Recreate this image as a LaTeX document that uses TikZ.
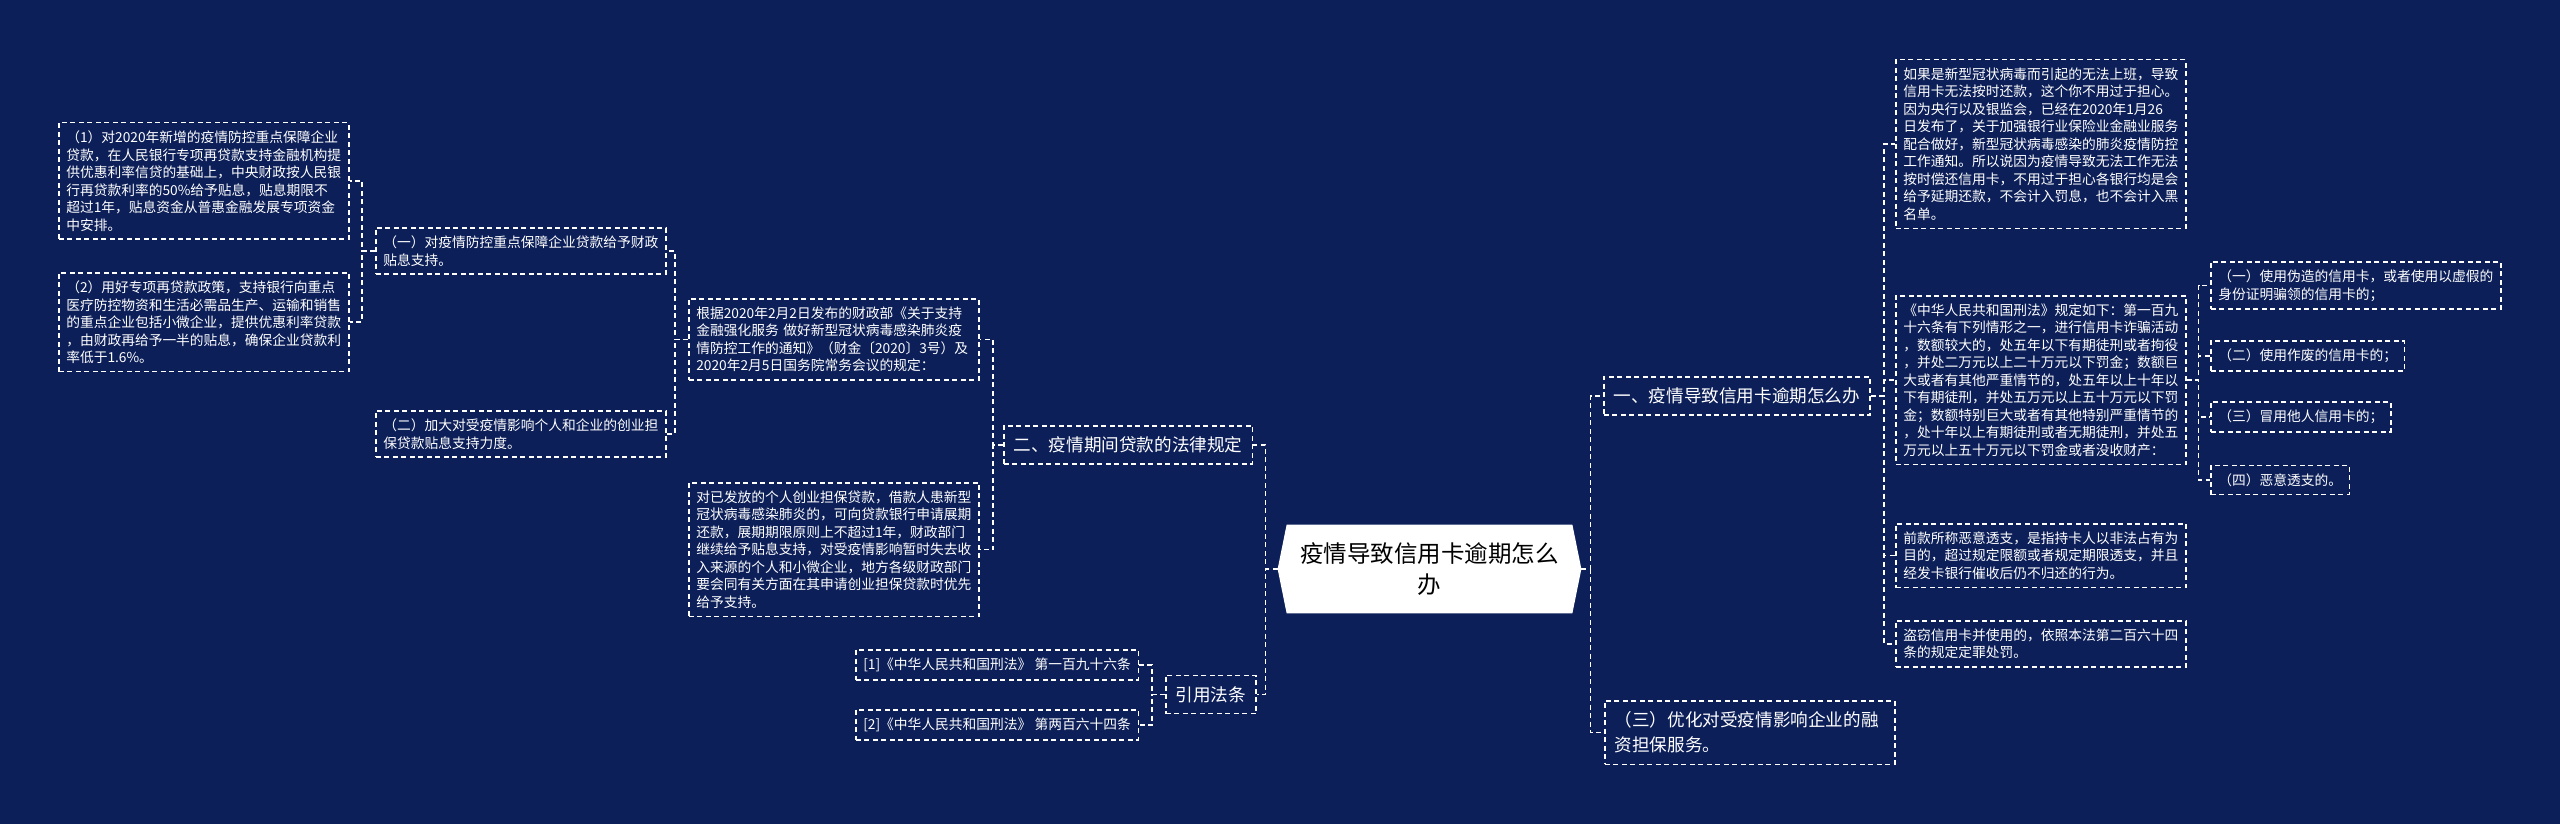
\documentclass[tikz,border=0pt]{standalone}
\usepackage{fontspec}
\setmainfont{Noto Sans CJK SC}
\usetikzlibrary{backgrounds}
\definecolor{mapnavy}{RGB}{12,31,89}
\tikzset{every picture/.style={line width=0.75pt}}
\tikzset{
  leaf/.style={draw=white, line width=1.5pt, dash pattern=on 5pt off 3.5pt, text=white, font=\fontsize{13.75}{17.5}\selectfont, align=left, inner xsep=7.5pt, inner ysep=8pt},
  leafwide/.style={leaf, text width=275pt},
  branch/.style={draw=white, line width=1.5pt, dash pattern=on 5pt off 3.5pt, text=white, font=\fontsize{17.6}{25}\selectfont, align=left, inner xsep=10pt, inner ysep=11pt},
  rootbox/.style={text=black, font=\fontsize{23.5}{31}\selectfont, align=center, minimum width=285pt, minimum height=88pt, inner sep=0pt},
  link/.style={draw=white, line width=1.5pt, dash pattern=on 5pt off 3.5pt},
}

\begin{document}
\begin{tikzpicture}[x=1pt,y=1pt,yscale=-1,xscale=1]
\useasboundingbox (0,0) rectangle (2560,824);
\begin{scope}[on background layer]
\fill[mapnavy] (0,0) rectangle (2560,824);
\end{scope}

% Root Node
\node [rootbox] (root) at (1429.5,569) {疫情导致信用卡逾期怎么\\办};
\coordinate (root-l) at ([xshift=-9pt]root.west);
\coordinate (root-r) at ([xshift=9pt]root.east);
\begin{scope}[on background layer]
\fill[white] (root.north west) -- (root.north east) -- (root-r) -- (root.south east) -- (root.south west) -- (root-l) -- cycle;
\end{scope}

% Text Node
\draw (1003,445) node [branch, anchor=west] (b2) {二、疫情期间贷款的法律规定};
% Text Node
\draw (1165,694.5) node [branch, anchor=west] (cite) {引用法条};
% Text Node
\draw (1603,396) node [branch, anchor=west] (b1) {一、疫情导致信用卡逾期怎么办};
% Text Node
\draw (1604,700) node [branch, anchor=north west, text width=270pt] (b3) {（三）优化对受疫情影响企业的融\\资担保服务。};

% Text Node
\draw (688,298) node [leafwide, anchor=north west] (law) {根据2020年2月2日发布的财政部《关于支持\\金融强化服务~做好新型冠状病毒感染肺炎疫\\情防控工作的通知》（财金〔2020〕3号）及\\2020年2月5日国务院常务会议的规定：};
% Text Node
\draw (688,482) node [leafwide, anchor=north west] (relief) {对已发放的个人创业担保贷款，借款人患新型\\冠状病毒感染肺炎的，可向贷款银行申请展期\\还款，展期期限原则上不超过1年，财政部门\\继续给予贴息支持，对受疫情影响暂时失去收\\入来源的个人和小微企业，地方各级财政部门\\要会同有关方面在其申请创业担保贷款时优先\\给予支持。};
% Text Node
\draw (375,227) node [leafwide, anchor=north west] (n1) {（一）对疫情防控重点保障企业贷款给予财政\\贴息支持。};
% Text Node
\draw (375,410) node [leafwide, anchor=north west] (n2) {（二）加大对受疫情影响个人和企业的创业担\\保贷款贴息支持力度。};
% Text Node
\draw (58,122) node [leafwide, anchor=north west] (p1) {（1）对2020年新增的疫情防控重点保障企业\\贷款，在人民银行专项再贷款支持金融机构提\\供优惠利率信贷的基础上，中央财政按人民银\\行再贷款利率的50\%给予贴息，贴息期限不\\超过1年，贴息资金从普惠金融发展专项资金\\中安排。};
% Text Node
\draw (58,272) node [leafwide, anchor=north west] (p2) {（2）用好专项再贷款政策，支持银行向重点\\医疗防控物资和生活必需品生产、运输和销售\\的重点企业包括小微企业，提供优惠利率贷款\\，由财政再给予一半的贴息，确保企业贷款利\\率低于1.6\%。};
% Text Node
\draw (855,665) node [leaf, anchor=west] (ref1) {[1]《中华人民共和国刑法》 第一百九十六条};
% Text Node
\draw (855,725) node [leaf, anchor=west] (ref2) {[2]《中华人民共和国刑法》 第两百六十四条};

% Text Node
\draw (1895,59) node [leafwide, anchor=north west] (ra) {如果是新型冠状病毒而引起的无法上班，导致\\信用卡无法按时还款，这个你不用过于担心。\\因为央行以及银监会，已经在2020年1月26\\日发布了，关于加强银行业保险业金融业服务\\配合做好，新型冠状病毒感染的肺炎疫情防控\\工作通知。所以说因为疫情导致无法工作无法\\按时偿还信用卡，不用过于担心各银行均是会\\给予延期还款，不会计入罚息，也不会计入黑\\名单。};
% Text Node
\draw (1895,295) node [leafwide, anchor=north west] (rb) {《中华人民共和国刑法》规定如下：第一百九\\十六条有下列情形之一，进行信用卡诈骗活动\\，数额较大的，处五年以下有期徒刑或者拘役\\，并处二万元以上二十万元以下罚金；数额巨\\大或者有其他严重情节的，处五年以上十年以\\下有期徒刑，并处五万元以上五十万元以下罚\\金；数额特别巨大或者有其他特别严重情节的\\，处十年以上有期徒刑或者无期徒刑，并处五\\万元以上五十万元以下罚金或者没收财产：};
% Text Node
\draw (1895,523) node [leafwide, anchor=north west] (rc) {前款所称恶意透支，是指持卡人以非法占有为\\目的，超过规定限额或者规定期限透支，并且\\经发卡银行催收后仍不归还的行为。};
% Text Node
\draw (1895,620) node [leafwide, anchor=north west] (rd) {盗窃信用卡并使用的，依照本法第二百六十四\\条的规定定罪处罚。};

% Text Node
\draw (2210,261) node [leafwide, anchor=north west] (f1) {（一）使用伪造的信用卡，或者使用以虚假的\\身份证明骗领的信用卡的；};
% Text Node
\draw (2210,356) node [leaf, anchor=west] (f2) {（二）使用作废的信用卡的；};
% Text Node
\draw (2210,417) node [leaf, anchor=west] (f3) {（三）冒用他人信用卡的；};
% Text Node
\draw (2210,480) node [leaf, anchor=west] (f4) {（四）恶意透支的。};

%Straight Lines
\draw [link] (root-l) -- ++(-12,0) |- (b2.east);
\draw [link] (root-l) -- ++(-12,0) |- (cite.east);
\draw [link] (root-r) -- ++(9,0) |- (b1.west);
\draw [link] (root-r) -- ++(9,0) |- (b3.west);
%Straight Lines
\draw [link] (b2.west) -- ++(-10,0) |- (law.east);
\draw [link] (b2.west) -- ++(-10,0) |- (relief.east);
\draw [link] (law.west) -- ++(-13,0) |- (n1.east);
\draw [link] (law.west) -- ++(-13,0) |- (n2.east);
\draw [link] (n1.west) -- ++(-13,0) |- (p1.east);
\draw [link] (n1.west) -- ++(-13,0) |- (p2.east);
\draw [link] (cite.west) -- ++(-13,0) |- (ref1.east);
\draw [link] (cite.west) -- ++(-13,0) |- (ref2.east);
%Straight Lines
\draw [link] (b1.east) -- ++(13,0) |- (ra.west);
\draw [link] (b1.east) -- ++(13,0) |- (rb.west);
\draw [link] (b1.east) -- ++(13,0) |- (rc.west);
\draw [link] (b1.east) -- ++(13,0) |- (rd.west);
\draw [link] (rb.east) -- ++(12,0) |- (f1.west);
\draw [link] (rb.east) -- ++(12,0) |- (f2.west);
\draw [link] (rb.east) -- ++(12,0) |- (f3.west);
\draw [link] (rb.east) -- ++(12,0) |- (f4.west);

\end{tikzpicture}
\end{document}
